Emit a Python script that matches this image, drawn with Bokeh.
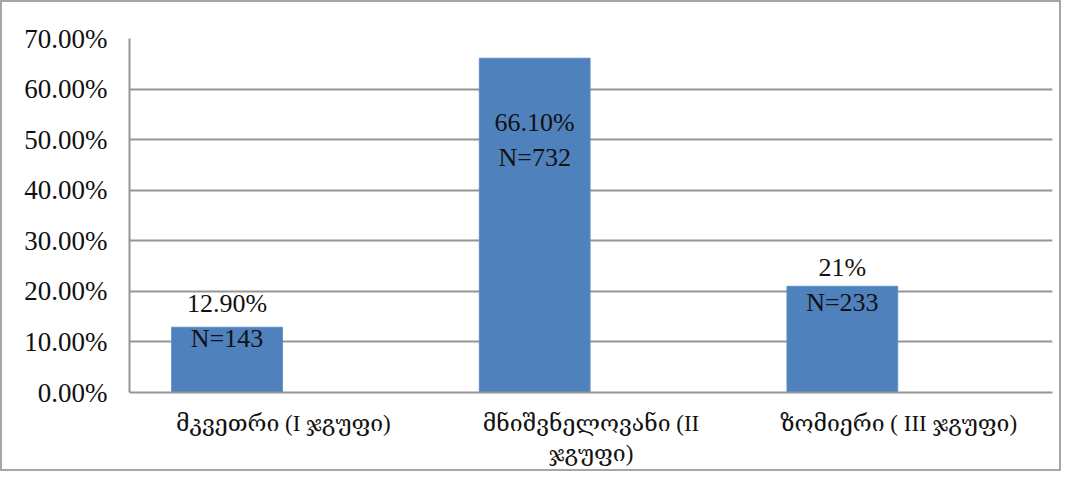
from bokeh.plotting import figure
from bokeh.models import ColumnDataSource, FixedTicker, PrintfTickFormatter, Range1d
from bokeh.embed import file_html
from bokeh.resources import INLINE

categories = ["მკვეთრი (I ჯგუფი)", "მნიშვნელოვანი (II\nჯგუფი)", "ზომიერი ( III ჯგუფი)"]
percent_values = [12.9, 66.1, 21.0]
percent_labels = ["12.90%", "66.10%", "21%"]
counts = [143, 732, 233]
y_ticks = [0, 10, 20, 30, 40, 50, 60, 70]

BAR_SHIFT = -0.183
BAR_WIDTH = 0.36
label_dy = [-6, 82, -1]

centers = [i + 0.5 for i in range(len(categories))]
src = ColumnDataSource(dict(
    x=[c + BAR_SHIFT for c in centers],
    top=percent_values,
    label=[f"{a}\nN={n}" for a, n in zip(percent_labels, counts)],
    dy=label_dy,
))

SERIF = "Liberation Serif, DejaVu Serif"

p = figure(width=1061, height=471, output_backend="svg", toolbar_location=None,
           x_range=Range1d(0, 3), y_range=Range1d(0, 70),
           min_border_left=127, min_border_right=11, min_border_top=36, min_border_bottom=81)
p.styles = {"border": "2px solid #a6a6a6"}
p.outline_line_color = None

p.vbar(x="x", top="top", width=BAR_WIDTH, bottom=0, source=src,
       fill_color="#4F81BD", line_color="#5B8FC8", line_width=1)

p.text(x="x", y="top", text="label", y_offset="dy", source=src,
       text_align="center", text_baseline="middle",
       text_font=SERIF, text_font_size="26px", text_color="#111111",
       text_line_height=1.2)

p.yaxis.ticker = FixedTicker(ticks=y_ticks)
p.yaxis.formatter = PrintfTickFormatter(format="%.2f%%")
p.yaxis.major_label_text_font = SERIF
p.yaxis.major_label_text_font_size = "27px"
p.yaxis.major_label_text_color = "#111111"
p.yaxis.major_label_standoff = 16
p.yaxis.axis_line_color = "#959595"
p.yaxis.axis_line_width = 2
p.yaxis.major_tick_line_color = None
p.yaxis.minor_tick_line_color = None

p.xaxis.ticker = FixedTicker(ticks=centers)
p.xaxis.major_label_overrides = {c: cat for c, cat in zip(centers, categories)}
p.xaxis.major_label_text_font = SERIF
p.xaxis.major_label_text_font_size = "23px"
p.xaxis.major_label_text_color = "#111111"
p.xaxis.major_label_standoff = 12
p.xaxis.axis_line_color = "#959595"
p.xaxis.axis_line_width = 2
p.xaxis.major_tick_line_color = None
p.xaxis.minor_tick_line_color = None

p.xgrid.grid_line_color = None
p.ygrid.ticker = FixedTicker(ticks=y_ticks)
p.ygrid.grid_line_color = "#959595"
p.ygrid.grid_line_width = 2

open("out.html", "w").write(file_html(p, INLINE))
